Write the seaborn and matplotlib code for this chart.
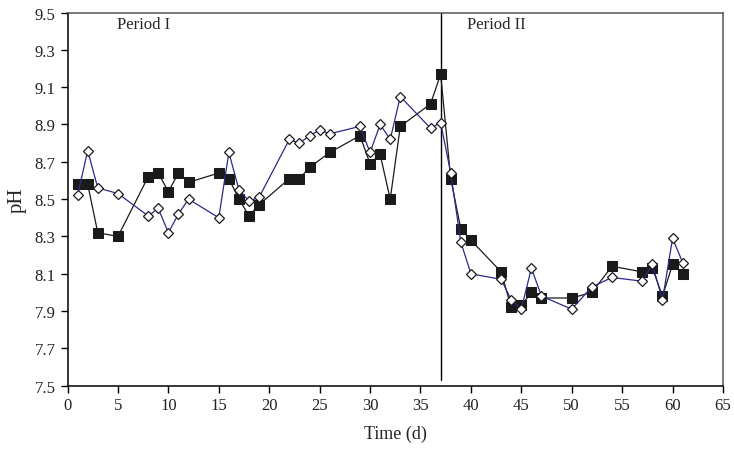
import numpy as np
import pandas as pd
import matplotlib
matplotlib.use("Agg")
import matplotlib.pyplot as plt
import seaborn as sns

# Sampling days and pH readings
days_sq = [1, 2, 3, 5, 8, 9, 10, 11, 12, 15, 16, 17, 18, 19, 22, 23, 24, 26, 29, 30,
           31, 32, 33, 36, 37, 38, 39, 40, 43, 44, 45, 46, 47, 50, 52, 54, 57, 58, 59, 60, 61]
ph_sq = [8.58, 8.58, 8.32, 8.30, 8.62, 8.64, 8.54, 8.64, 8.59, 8.64, 8.61, 8.50, 8.41, 8.47,
         8.61, 8.61, 8.67, 8.75, 8.84, 8.69, 8.74, 8.50, 8.89, 9.01, 9.17, 8.61, 8.34, 8.28,
         8.11, 7.92, 7.93, 8.00, 7.97, 7.97, 8.00, 8.14, 8.11, 8.13, 7.98, 8.15, 8.10]

days_dm = [1, 2, 3, 5, 8, 9, 10, 11, 12, 15, 16, 17, 18, 19, 22, 23, 24, 25, 26, 29, 30,
           31, 32, 33, 36, 37, 38, 39, 40, 43, 44, 45, 46, 47, 50, 52, 54, 57, 58, 59, 60, 61]
ph_dm = [8.52, 8.76, 8.56, 8.53, 8.41, 8.45, 8.32, 8.42, 8.50, 8.40, 8.75, 8.55, 8.49, 8.51,
         8.82, 8.80, 8.84, 8.87, 8.85, 8.89, 8.75, 8.90, 8.82, 9.05, 8.88, 8.91, 8.64, 8.27,
         8.10, 8.07, 7.96, 7.91, 8.13, 7.98, 7.91, 8.03, 8.08, 8.06, 8.15, 7.96, 8.29, 8.16]

period_switch = 37
period_labels = ["Period I", "Period II"]
x_ticks = list(range(0, 66, 5))
y_ticks = [7.5, 7.7, 7.9, 8.1, 8.3, 8.5, 8.7, 8.9, 9.1, 9.3, 9.5]

sns.set_style("ticks")
plt.rcParams["font.family"] = ["Liberation Serif", "DejaVu Serif"]

df_sq = pd.DataFrame({"day": days_sq, "pH": ph_sq})
df_dm = pd.DataFrame({"day": days_dm, "pH": ph_dm})

fig = plt.figure(figsize=(7.34, 4.52), dpi=100)
ax = fig.add_axes([0.092, 0.1445, 0.893, 0.8255])

sns.lineplot(data=df_sq, x="day", y="pH", ax=ax, color="#1a1a1a", lw=0.9,
             marker="s", markersize=7.2, markerfacecolor="#1a1a1a",
             markeredgecolor="#1a1a1a", estimator=None, zorder=3)
sns.lineplot(data=df_dm, x="day", y="pH", ax=ax, color="#2a2a8a", lw=0.9,
             marker="D", markersize=5.3, markerfacecolor="white",
             markeredgecolor="#1a1a1a", markeredgewidth=0.9, estimator=None, zorder=4)

ax.plot([period_switch, period_switch], [9.5, 7.53], color="black", lw=1.0, zorder=2)

ax.text(4.9, 9.44, period_labels[0], fontsize=12, va="center", ha="left")
ax.text(39.6, 9.44, period_labels[1], fontsize=12, va="center", ha="left")

ax.set_xlim(0, 65)
ax.set_ylim(7.5, 9.5)
ax.set_xticks(x_ticks)
ax.set_yticks(y_ticks)
ax.set_yticklabels([f"{v:.1f}" for v in y_ticks])
ax.tick_params(axis="both", direction="out", length=5, width=1, labelsize=12,
               color="black", labelcolor="#222222")
ax.set_xlabel("Time (d)", fontsize=13, labelpad=8)
ax.set_ylabel("pH", fontsize=15, labelpad=6)

for side in ["left", "bottom"]:
    ax.spines[side].set_color("black")
    ax.spines[side].set_linewidth(1.1)
for side in ["top", "right"]:
    ax.spines[side].set_visible(True)
    ax.spines[side].set_color("#555555")
    ax.spines[side].set_linewidth(1.1)

fig.savefig("out.png", dpi=100)
